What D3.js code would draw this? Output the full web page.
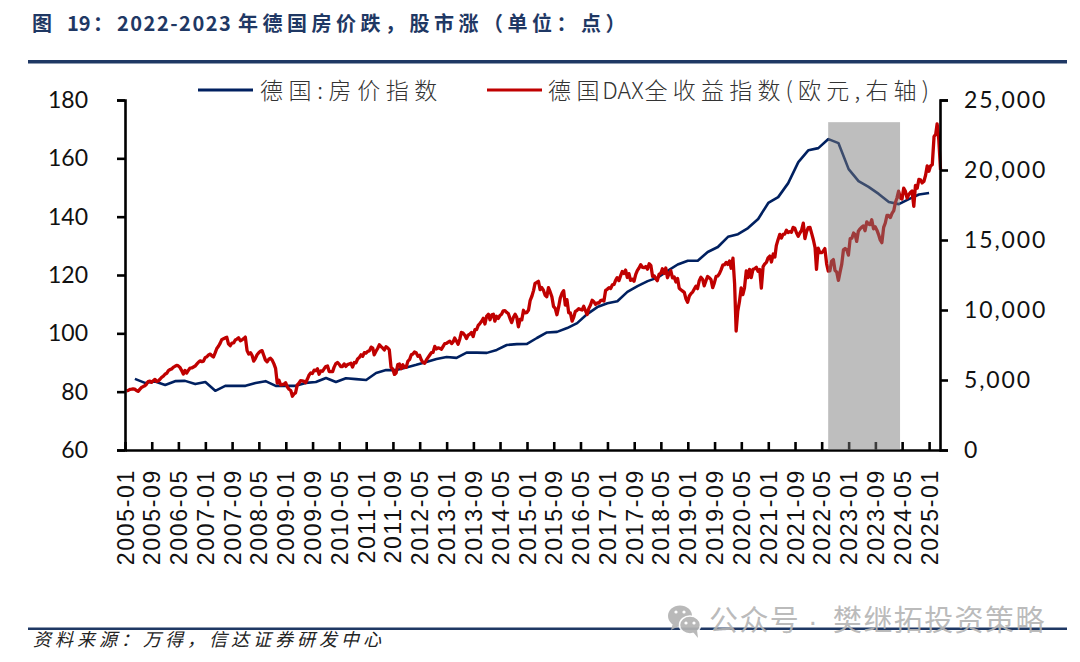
<!DOCTYPE html>
<html>
<head>
<meta charset="utf-8">
<script src="https://cdn.jsdelivr.net/npm/d3@7"></script>
<style>
  body { margin: 0; background: #fff; }
  text { font-family: "Noto Sans CJK SC", sans-serif; }
  .tick text { font-family: Lato, "Liberation Sans", sans-serif; fill: #111; }
  .xaxis .tick text { font-family: "Liberation Sans", sans-serif; }
</style>
</head>
<body>
<div id="chart"></div>
<script>
const xTickLabels = [
  '2005-01','2005-09','2006-05','2007-01','2007-09','2008-05','2009-01','2009-09',
  '2010-05','2011-01','2011-09','2012-05','2013-01','2013-09','2014-05','2015-01',
  '2015-09','2016-05','2017-01','2017-09','2018-05','2019-01','2019-09','2020-05',
  '2021-01','2021-09','2022-05','2023-01','2023-09','2024-05','2025-01'
]
const leftTicks = [60, 80, 100, 120, 140, 160, 180]
const rightTicks = [0, 5000, 10000, 15000, 20000, 25000]

// quarterly, first value is 2005-04
const houseValues = [
  84.4, 83, 83.5,
  82.3, 83.6, 83.7, 82.6,
  83.3, 80.3, 82, 82,
  82, 83, 83.6, 82,
  82, 82, 83, 83.3,
  84.7, 83.3, 84.6, 84.3,
  84, 86.4, 87.4, 87.4,
  88.3, 89.2, 90.2, 91.2,
  91.9, 91.6, 93.4, 93.4,
  93.3, 94.3, 96, 96.3,
  96.4, 98.4, 100.3, 100.5,
  101.8, 103.5, 106.6, 109,
  110.3, 111, 114.2, 116.2,
  117.9, 119.1, 121.4, 123.6,
  124.9, 124.9, 127.9, 129.6,
  133.1, 134, 136.1, 139.2,
  144.7, 146.7, 151.5, 158.7,
  162.8, 163.5, 166.6, 165.2,
  156.3, 152.2, 150.2, 147.8,
  145, 144.3, 146, 147.6,
  148.1
]

// two readings per month: mid month, month end
const daxValues = [
  4230,4254,4330,4350,4370,4349,4250,4185,4330,4460,4530,4586,4700,4886,4920,4829,4950,5044,4900,4929,5050,5193,5270,5408,
  5480,5674,5750,5796,5900,5970,6050,6009,5900,5692,5420,5683,5500,5682,5850,5859,5930,5998,6130,6268,6370,6309,6350,6597,
  6660,6789,6850,6715,6640,6917,7250,7409,7620,7883,7950,8007,8050,7584,7450,7638,7650,7862,7920,8019,7800,7871,7950,8067,
  7100,6851,6950,6748,6350,6535,6800,6949,7050,7097,6750,6418,6300,6479,6550,6422,6150,5831,4780,4988,4650,4669,4700,4810,
  4500,4338,4250,3843,4000,4085,4650,4769,4950,4941,4900,4809,5050,5332,5500,5465,5700,5675,5800,5415,5650,5625,5800,5957,
  6000,5608,5600,5598,5900,6153,6250,6136,5950,5964,6150,5966,6100,6148,6200,5925,6250,6229,6500,6601,6800,6688,6950,6914,
  7050,7077,7350,7272,6800,7041,7250,7514,7400,7294,7150,7376,7300,7158,5900,5785,5400,5502,6100,6141,5800,6089,5900,5898,
  6350,6458,6800,6856,7000,6947,6700,6761,6450,6264,6200,6416,6600,6772,6950,6970,7400,7216,7300,7260,7200,7405,7600,7612,
  7700,7776,7600,7742,8000,7795,7550,7914,8400,8348,8200,7959,8200,8276,8400,8103,8600,8594,8900,9033,9200,9405,9000,9552,
  9700,9306,9650,9692,9200,9556,9400,9603,9700,9943,9950,9833,9750,9407,9100,9470,9700,9474,8800,9326,9300,9980,9800,9806,
  10000,10694,11000,11402,11900,11966,12050,11454,11600,11413,11050,10945,11600,11309,10950,10259,10100,9660,10200,10850,11200,11382,10350,10743,
  9800,9798,9200,9495,9900,9965,10100,10039,10000,10262,9950,9680,10100,10337,10700,10592,10400,10511,10500,10665,10700,10640,11400,11481,
  11600,11535,11800,11834,12100,12313,12100,12438,12750,12615,12850,12325,12600,12118,12200,12055,12550,12829,13000,13229,13050,13023,13100,12918,
  13300,13189,12400,12435,12250,12096,12550,12612,12950,12604,13000,12306,12600,12805,12300,12364,12000,12247,11550,11447,11350,11257,10800,10559,
  11000,11173,11300,11515,11700,11526,12100,12344,12200,11726,12100,12399,12300,12189,11600,11939,12400,12428,12600,12867,13200,13236,13400,13249,
  13500,12981,13700,11890,8500,9936,10650,11586,11100,11587,12800,12310,12900,12313,12900,12945,13050,12761,12900,11556,13100,13291,13400,13719,
  13850,13432,14000,13786,14600,15008,15400,15136,15400,15421,15700,15531,15600,15544,15900,15835,15500,15261,15500,15688,16200,15100,15600,15885,
  15900,15471,15000,14461,12900,14414,14100,14098,14200,14388,13300,12784,12800,13484,13600,12835,12700,12114,12700,13254,14300,14397,14300,13924,
  15100,15128,15500,15365,14900,15629,15800,15922,16000,15664,16300,16148,16100,16447,15800,15947,15700,15387,15000,14810,15900,16215,16750,16752,
  16600,16903,17100,17678,18000,18492,18000,17932,18700,18498,18000,18235,18400,18508,17400,18907,18700,19325,19300,19078,19200,19626,20300,19909,
  20300,20384,22400,22551,23300,22163,20000
]

const shadeStart = '2022-06-29'
const shadeEnd = '2024-04-12'
const shadeTop = 172.4

const width = 1080
const height = 662
const margin = {top: 100, bottom: 212, left: 125, right: 140}

const parse = d3.utcParse('%Y-%m-%d')
const formatComma = d3.format(',')

const house = houseValues.map((v, i) => ({date: new Date(Date.UTC(2005, 3 + i * 3, 1)), value: v}))
const dax = daxValues.map((v, i) => ({
  date: new Date(Date.UTC(2005, Math.floor(i / 2), i % 2 ? 30 : 15)),
  value: v
}))

const svg = d3.select('#chart')
  .append('svg')
  .attr('width', width)
  .attr('height', height)
  .attr('viewBox', [0, 0, width, height])
  .style('display', 'block')

const x = d3.scaleUtc()
  .domain([parse('2005-01-01'), parse('2025-04-10')])
  .range([margin.left, width - margin.right])

const yLeft = d3.scaleLinear()
  .domain([60, 180])
  .range([height - margin.bottom, margin.top])

const yRight = d3.scaleLinear()
  .domain([0, 25000])
  .range([height - margin.bottom, margin.top])

// header
const title = svg.append('text')
  .attr('x', 32).attr('y', 31)
  .attr('fill', '#1f3864')
  .attr('font-size', 20)
  .attr('font-weight', 700)
title.append('tspan').text('图 ')
title.append('tspan').attr('x', 67).text('19')
title.append('tspan').attr('x', 93).text('：')
title.append('tspan').attr('x', 117).attr('letter-spacing', 1.5).text('2022-2023')
title.append('tspan').attr('x', 238).attr('letter-spacing', 4.5).text('年德国房价跌，股市涨（单位：点）')

svg.append('rect').attr('x', 28).attr('y', 60).attr('width', 1039).attr('height', 3.5).attr('fill', '#1f3864')
svg.append('rect').attr('x', 28).attr('y', 627.5).attr('width', 1039).attr('height', 2.5).attr('fill', '#1f3864')

svg.append('text')
  .attr('x', 33).attr('y', 646)
  .attr('fill', '#222')
  .attr('font-size', 18)
  .attr('font-style', 'italic')
  .attr('letter-spacing', 4)
  .text('资料来源：万得，信达证券研发中心')

// lines
const lineHouse = d3.line().x(d => x(d.date)).y(d => yLeft(d.value))
const lineDax = d3.line().x(d => x(d.date)).y(d => yRight(d.value))

svg.append('path')
  .datum(house)
  .attr('fill', 'none')
  .attr('stroke', '#002060')
  .attr('stroke-width', 2.6)
  .attr('stroke-linejoin', 'round')
  .attr('d', lineHouse)

svg.append('path')
  .datum(dax)
  .attr('fill', 'none')
  .attr('stroke', '#c00000')
  .attr('stroke-width', 3.3)
  .attr('stroke-linejoin', 'round')
  .attr('d', lineDax)

// axes
function leftAxis(g) {
  g.call(d3.axisLeft(yLeft).tickValues(leftTicks).tickSizeOuter(0).tickSize(8).tickPadding(29))
  g.attr('transform', `translate(${margin.left}, 0)`)
  g.selectAll('text').attr('font-size', 23)
}

function rightAxis(g) {
  g.call(d3.axisRight(yRight).tickValues(rightTicks).tickFormat(formatComma).tickSizeOuter(0).tickSize(8).tickPadding(16))
  g.attr('transform', `translate(${width - margin.right}, 0)`)
  g.selectAll('text').attr('font-size', 23).attr('letter-spacing', 1.9)
}

function bottomAxis(g) {
  g.call(d3.axisBottom(x)
    .tickValues(xTickLabels.map(s => parse(s + '-01')))
    .tickFormat(d3.utcFormat('%Y-%m'))
    .tickSizeOuter(0)
    .tickSizeInner(-8))
  g.attr('transform', `translate(0, ${height - margin.bottom})`)
  g.attr('class', 'xaxis')
  g.selectAll('text')
    .attr('font-size', 23)
    .attr('letter-spacing', 1.7)
    .attr('text-anchor', 'end')
    .attr('transform', 'rotate(-90)')
    .attr('x', -19)
    .attr('y', 0)
    .attr('dy', '0.35em')
}

for (const fn of [leftAxis, rightAxis, bottomAxis]) {
  const g = svg.append('g').call(fn)
  g.selectAll('.domain, .tick line').attr('stroke', '#000').attr('stroke-width', 2.6)
}

// grey band sits over lines and axis
svg.append('rect')
  .attr('x', x(parse(shadeStart)))
  .attr('y', yLeft(shadeTop))
  .attr('width', x(parse(shadeEnd)) - x(parse(shadeStart)))
  .attr('height', yLeft(60) - yLeft(shadeTop))
  .attr('fill', '#7a7a7a')
  .attr('opacity', 0.49)

// legend
const legendStyle = g => g
  .attr('y', 99)
  .attr('font-size', 23)
  .attr('font-weight', 300)
  .attr('fill', '#333')

svg.append('line').attr('x1', 198).attr('x2', 253).attr('y1', 90).attr('y2', 90)
  .attr('stroke', '#002060').attr('stroke-width', 3)
svg.append('text').attr('x', 260).attr('letter-spacing', 5.6).call(legendStyle).text('德国:房价指数')

svg.append('line').attr('x1', 487).attr('x2', 542).attr('y1', 90).attr('y2', 90)
  .attr('stroke', '#c00000').attr('stroke-width', 3)
const legend2 = svg.append('text').attr('x', 548).call(legendStyle)
legend2.append('tspan').attr('letter-spacing', 5.6).text('德国')
legend2.append('tspan').attr('letter-spacing', 0).attr('dx', -3).text('DAX')
legend2.append('tspan').attr('letter-spacing', 5.2).attr('dx', 1).text('全收益指数(欧元,右轴)')

// watermark
const wm = svg.append('g').attr('fill', '#b4b4b4').attr('opacity', 0.92)
wm.append('ellipse').attr('cx', 680).attr('cy', 616).attr('rx', 12).attr('ry', 10.5)
wm.append('path').attr('d', 'M673 623 L671 630 L679 626 Z')
wm.append('ellipse').attr('cx', 690).attr('cy', 625).attr('rx', 10.5).attr('ry', 9).attr('stroke', '#fff').attr('stroke-width', 1.5)
wm.append('path').attr('d', 'M693 632 L698 638 L697 630 Z')
for (const [cx, cy] of [[676, 612], [684, 612], [686, 623], [694, 623]]) {
  wm.append('circle').attr('cx', cx).attr('cy', cy).attr('r', 1.6).attr('fill', '#fff')
}
const wmText = svg.append('text')
  .attr('y', 631)
  .attr('font-size', 29)
  .attr('letter-spacing', 1.4)
  .attr('fill', '#b4b4b4')
  .attr('fill-opacity', 0.92)
wmText.append('tspan').attr('x', 709).text('公众号')
wmText.append('tspan').attr('x', 808).style('font-family', '"Liberation Sans", sans-serif').text('·')
wmText.append('tspan').attr('x', 833).text('樊继拓投资策略')
</script>
</body>
</html>
